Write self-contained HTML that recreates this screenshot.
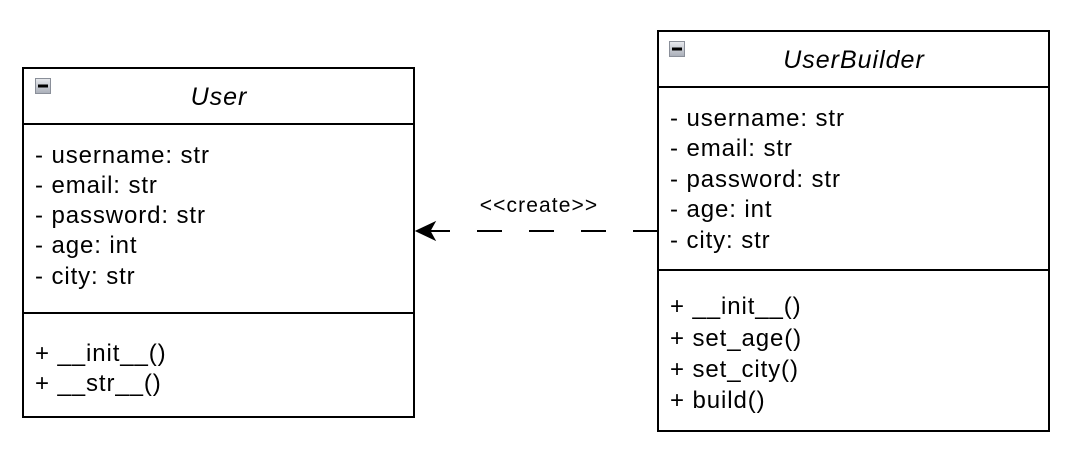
<!DOCTYPE html>
<html><head><meta charset="utf-8"><style>html,body{margin:0;padding:0;background:#fff;}svg{display:block}</style></head>
<body>
<svg width="1068" height="463" viewBox="0 0 1068 463" xmlns="http://www.w3.org/2000/svg" font-family="Liberation Sans, Arial, sans-serif" font-size="24" letter-spacing="0.9" fill="#000">
<rect x="0" y="0" width="1068" height="463" fill="#fff"/>
<defs><linearGradient id="g" x1="0" y1="0" x2="0" y2="1"><stop offset="0" stop-color="#e8eaee"/><stop offset="1" stop-color="#a9aeb8"/></linearGradient></defs>
<!-- User -->
<rect x="23" y="68" width="391" height="349" fill="#fff" stroke="#000" stroke-width="2"/>
<line x1="23" y1="124" x2="414" y2="124" stroke="#000" stroke-width="2"/>
<line x1="23" y1="313" x2="414" y2="313" stroke="#000" stroke-width="2"/>
<rect x="35.5" y="78.5" width="15" height="15" fill="url(#g)" stroke="#8a8f99"/>
<rect x="38" y="84.5" width="10" height="3" fill="#000"/>
<text x="219" y="105" font-style="italic" text-anchor="middle" font-size="25" letter-spacing="1">User</text>
<text x="35" y="163">- username: str</text>
<text x="35" y="193">- email: str</text>
<text x="35" y="223">- password: str</text>
<text x="35" y="253">- age: int</text>
<text x="35" y="284">- city: str</text>
<text x="35" y="361">+ __init__()</text>
<text x="35" y="391">+ __str__()</text>
<!-- UserBuilder -->
<rect x="658" y="31" width="391" height="400" fill="#fff" stroke="#000" stroke-width="2"/>
<line x1="658" y1="87" x2="1049" y2="87" stroke="#000" stroke-width="2"/>
<line x1="658" y1="270" x2="1049" y2="270" stroke="#000" stroke-width="2"/>
<rect x="669.5" y="41.5" width="15" height="15" fill="url(#g)" stroke="#8a8f99"/>
<rect x="672" y="47.5" width="10" height="3" fill="#000"/>
<text x="854" y="68" font-style="italic" text-anchor="middle" font-size="25" letter-spacing="1">UserBuilder</text>
<text x="670" y="126">- username: str</text>
<text x="670" y="156">- email: str</text>
<text x="670" y="187">- password: str</text>
<text x="670" y="217">- age: int</text>
<text x="670" y="248">- city: str</text>
<text x="670" y="314">+ __init__()</text>
<text x="670" y="346">+ set_age()</text>
<text x="670" y="377">+ set_city()</text>
<text x="670" y="408">+ build()</text>
<!-- connector -->
<line x1="658" y1="231" x2="425" y2="231" stroke="#000" stroke-width="2" stroke-dasharray="25,27"/>
<line x1="448" y1="231" x2="425" y2="231" stroke="#000" stroke-width="2"/>
<path d="M416 231 L435 222 L430 231 L435 240 Z" fill="#000" stroke="#000" stroke-width="1"/>
<text x="539" y="212" text-anchor="middle" font-size="21" letter-spacing="1.1">&lt;&lt;create&gt;&gt;</text>
</svg>
</body></html>
